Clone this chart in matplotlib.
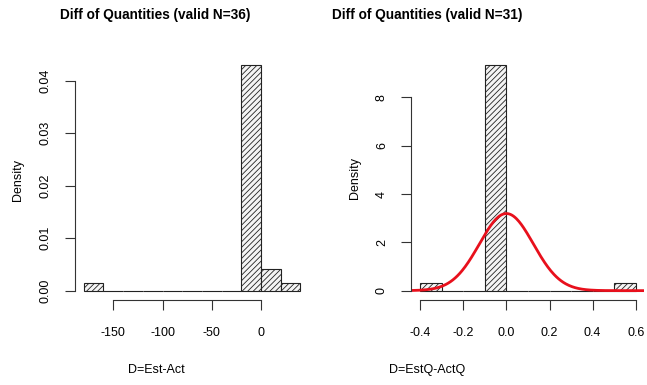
import numpy as np
import matplotlib.pyplot as plt
import matplotlib as mpl

# histogram of Est-Act differences
est_edges = [-180, -160, -140, -120, -100, -80, -60, -40, -20, 0, 20, 40]
est_counts = [1, 0, 0, 0, 0, 0, 0, 0, 31, 3, 1]
est_ticks = [-150, -100, -50, 0]
est_yticks = [0.00, 0.01, 0.02, 0.03, 0.04]

# histogram of EstQ-ActQ differences, with fitted normal curve
q_edges = [-0.4, -0.3, -0.2, -0.1, 0.0, 0.1, 0.2, 0.3, 0.4, 0.5, 0.6]
q_counts = [1, 0, 0, 29, 0, 0, 0, 0, 0, 1]
q_ticks = [-0.4, -0.2, 0.0, 0.2, 0.4, 0.6]
q_yticks = [0, 2, 4, 6, 8]
q_mean = 0.0
q_sd = 0.125

mpl.rcParams['font.family'] = ['Liberation Sans', 'DejaVu Sans']
mpl.rcParams['hatch.linewidth'] = 0.6
mpl.rcParams['hatch.color'] = '#444444'

fig = plt.figure(figsize=(6.47, 3.85), dpi=100)


def rhist(ax, edges, counts, ticks, yticks, ylabfmt):
    edges = np.array(edges, dtype=float)
    counts = np.array(counts, dtype=float)
    w = edges[1:] - edges[:-1]
    dens = counts / (counts.sum() * w)
    ax.bar(edges[:-1], dens, width=w, align='edge', facecolor='#f4f4f4',
           edgecolor='#222222', linewidth=0.8, hatch='//////')
    lo, hi = edges[0], edges[-1]
    pad = 0.04 * (hi - lo)
    ax.set_xlim(lo - pad, hi + pad)
    ax.set_ylim(-0.04 * dens.max(), dens.max() * 1.04)
    for s in ['top', 'right']:
        ax.spines[s].set_visible(False)
    ax.spines['bottom'].set_bounds(ticks[0], ticks[-1])
    ax.spines['left'].set_bounds(yticks[0], yticks[-1])
    ax.spines['bottom'].set_color('#333333')
    ax.spines['left'].set_color('#333333')
    ax.set_xticks(ticks)
    ax.set_yticks(yticks)
    ax.set_yticklabels([ylabfmt.format(v) for v in yticks], rotation=90, va='center')
    ax.tick_params(axis='x', length=7, pad=13, labelsize=9, color='#333333')
    ax.tick_params(axis='y', length=7, pad=10, labelsize=9, color='#333333')
    return dens


ax1 = fig.add_axes([0.116, 0.2216, 0.3617, 0.634])
rhist(ax1, est_edges, est_counts, est_ticks, est_yticks, '{:.2f}')
ax1.set_xticklabels([str(t) for t in est_ticks])

ax2 = fig.add_axes([0.636, 0.2216, 0.360, 0.634])
rhist(ax2, q_edges, q_counts, q_ticks, q_yticks, '{:d}')
ax2.set_xticklabels(['{:.1f}'.format(t) for t in q_ticks])
xs = np.linspace(-0.44, 0.64, 300)
ax2.plot(xs, np.exp(-0.5 * ((xs - q_mean) / q_sd) ** 2) / (q_sd * np.sqrt(2 * np.pi)),
         color='#e8101c', linewidth=2)

fig.text(155 / 647, 1 - 15 / 385, 'Diff of Quantities (valid N=36)', ha='center', va='center',
         fontsize=9.8, fontweight='bold')
fig.text(427 / 647, 1 - 15 / 385, 'Diff of Quantities (valid N=31)', ha='center', va='center',
         fontsize=9.8, fontweight='bold')
fig.text(156 / 647, 1 - 370 / 385, 'D=Est-Act', ha='center', va='center', fontsize=9)
fig.text(427 / 647, 1 - 370 / 385, 'D=EstQ-ActQ', ha='center', va='center', fontsize=9)
fig.text(18 / 647, 1 - 180 / 385, 'Density', rotation=90, ha='center', va='center', fontsize=9)
fig.text(355 / 647, 1 - 178 / 385, 'Density', rotation=90, ha='center', va='center', fontsize=9)

fig.savefig('out.png', dpi=100)
